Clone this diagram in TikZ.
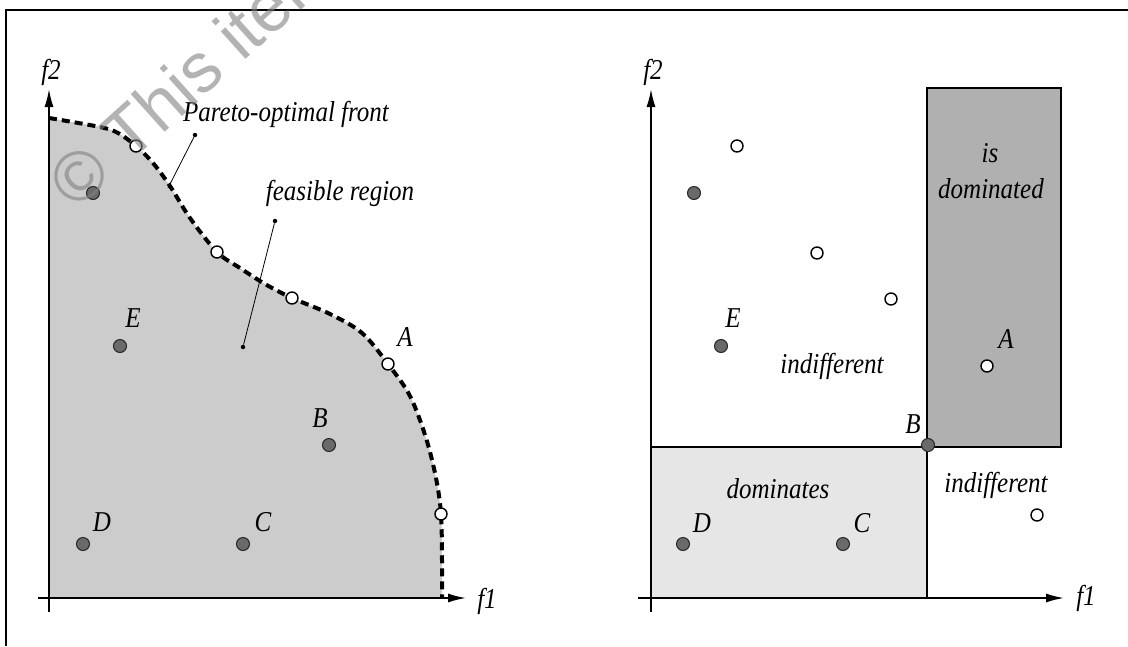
\documentclass[tikz,border=0pt]{standalone}
\usepackage{fontspec}
\setmainfont{Liberation Serif}
\newfontfamily\wmfont{Liberation Sans}
\usetikzlibrary{arrows.meta}
\newcommand\stretchtxt[1]{\scalebox{1}[1.15]{#1}}
\definecolor{feasgray}{HTML}{CCCCCC}
\definecolor{domgray}{HTML}{E6E6E6}
\definecolor{isdomgray}{HTML}{B0B0B0}
\definecolor{dotgray}{HTML}{6A6A6A}
\begin{document}
\begin{tikzpicture}[x=1pt,y=-1pt,
  lbl/.style={font=\fontsize{25}{30}\selectfont\itshape, inner sep=0pt, anchor=base},
  opendot/.style={circle, draw=black, fill=white, line width=1.4pt, minimum size=12pt, inner sep=0pt},
  darkdot/.style={circle, draw=black!85, fill=dotgray, line width=1pt, minimum size=13pt, inner sep=0pt},
  axis/.style={line width=1.6pt, -{Latex[length=18pt,width=9pt]}},
  front/.style={line width=4pt, dash pattern=on 8pt off 5pt},
  pointer/.style={line width=0.8pt},
  pinpt/.style={circle, fill=black, minimum size=4.5pt, inner sep=0pt},
  frame/.style={line width=2pt},
  region/.style={draw=black, line width=1.3pt}]
\useasboundingbox (0,0) rectangle (1128,646);
% frame
\coordinate (fa) at (6,646);
\coordinate (fb) at (6,10);
\coordinate (fc) at (1128,10);
\draw[frame] (fa) -- (fb) -- (fc);

% ---------------- left plot ----------------
\fill[feasgray] (49,598) -- plot[smooth, tension=0.55] coordinates {(49,118) (100,127) (118,133) (136,146) (153,163) (170,186) (190,218) (217,252) (240,268) (265,284) (292,298) (330,314) (362,333) (388,364) (410,396) (426,438) (436,478) (441,514) (442,560) (442,598)} -- cycle;
\draw[front] plot[smooth, tension=0.55] coordinates {(49,118) (100,127) (118,133) (136,146) (153,163) (170,186) (190,218) (217,252) (240,268) (265,284) (292,298) (330,314) (362,333) (388,364) (410,396) (426,438) (436,478) (441,514) (442,560) (442,597)};

\coordinate (lx0) at (38,598);
\coordinate (lx1) at (466,598);
\coordinate (ly0) at (49,612);
\coordinate (ly1) at (49,89);
\draw[axis] (lx0) -- (lx1);
\draw[axis] (ly0) -- (ly1);
\node[lbl] (lf1) at (487,608) {\stretchtxt{f1}};
\node[lbl] (lf2) at (51,79) {\stretchtxt{f2}};

% pointers
\node[pinpt] (ppin) at (195,135) {};
\coordinate (pend) at (168,188);
\draw[pointer] (ppin) -- (pend);
\node[pinpt] (fpin1) at (275,221) {};
\node[pinpt] (fpin2) at (243,347) {};
\draw[pointer] (fpin1) -- (fpin2);
\node[lbl] (ptxt) at (286,121) {\stretchtxt{Pareto-optimal front}};
\node[lbl] (ftxt) at (340,200) {\stretchtxt{feasible region}};

% points
\node[opendot] (l1) at (136,146) {};
\node[opendot] (l2) at (217,252) {};
\node[opendot] (l3) at (292,298) {};
\node[opendot] (lA) at (388,364) {};
\node[opendot] (l4) at (441,514) {};
\node[darkdot] (l5) at (93,193) {};
\node[darkdot] (lE) at (120,346) {};
\node[darkdot] (lB) at (329,445) {};
\node[darkdot] (lD) at (83,544) {};
\node[darkdot] (lC) at (243,544) {};
\node[lbl] (lAl) at (405,346) {\stretchtxt{A}};
\node[lbl] (lEl) at (133,327) {\stretchtxt{E}};
\node[lbl] (lBl) at (320,427) {\stretchtxt{B}};
\node[lbl] (lDl) at (102,531) {\stretchtxt{D}};
\node[lbl] (lCl) at (263,531) {\stretchtxt{C}};

% ---------------- right plot ----------------
\filldraw[region, fill=domgray] (651,447) rectangle (927,598);
\filldraw[region, fill=isdomgray] (927,88) rectangle (1061,447);
\coordinate (rx0) at (638,598);
\coordinate (rx1) at (1064,598);
\coordinate (ry0) at (651,612);
\coordinate (ry1) at (651,89);
\draw[axis] (rx0) -- (rx1);
\draw[axis] (ry0) -- (ry1);
\node[lbl] (rf1) at (1086,605) {\stretchtxt{f1}};
\node[lbl] (rf2) at (653,79) {\stretchtxt{f2}};

\node[opendot] (r1) at (737,146) {};
\node[opendot] (r2) at (817,253) {};
\node[opendot] (r3) at (891,299) {};
\node[opendot] (rA) at (987,366) {};
\node[opendot] (r4) at (1037,515) {};
\node[darkdot] (r5) at (694,193) {};
\node[darkdot] (rE) at (721,346) {};
\node[darkdot] (rB) at (928,445) {};
\node[darkdot] (rD) at (683,544) {};
\node[darkdot] (rC) at (843,544) {};
\node[lbl] (rAl) at (1006,348) {\stretchtxt{A}};
\node[lbl] (rEl) at (733,327) {\stretchtxt{E}};
\node[lbl] (rBl) at (913,433) {\stretchtxt{B}};
\node[lbl] (rDl) at (702,532) {\stretchtxt{D}};
\node[lbl] (rCl) at (862,532) {\stretchtxt{C}};

\node[lbl] (tis) at (990,162) {\stretchtxt{is}};
\node[lbl] (tdom) at (991,198) {\stretchtxt{dominated}};
\node[lbl] (tind1) at (832,373) {\stretchtxt{indifferent}};
\node[lbl] (tdoms) at (778,498) {\stretchtxt{dominates}};
\node[lbl] (tind2) at (996,492) {\stretchtxt{indifferent}};

% watermark
\begin{scope}
\clip (0,0) rectangle (1128,646);
\node[font=\wmfont\fontsize{70}{72}\selectfont, text=black!50, text opacity=0.6, inner sep=0pt, anchor=west, rotate=42] (wm) at (60,193) {© This item};
\end{scope}
\end{tikzpicture}
\end{document}
